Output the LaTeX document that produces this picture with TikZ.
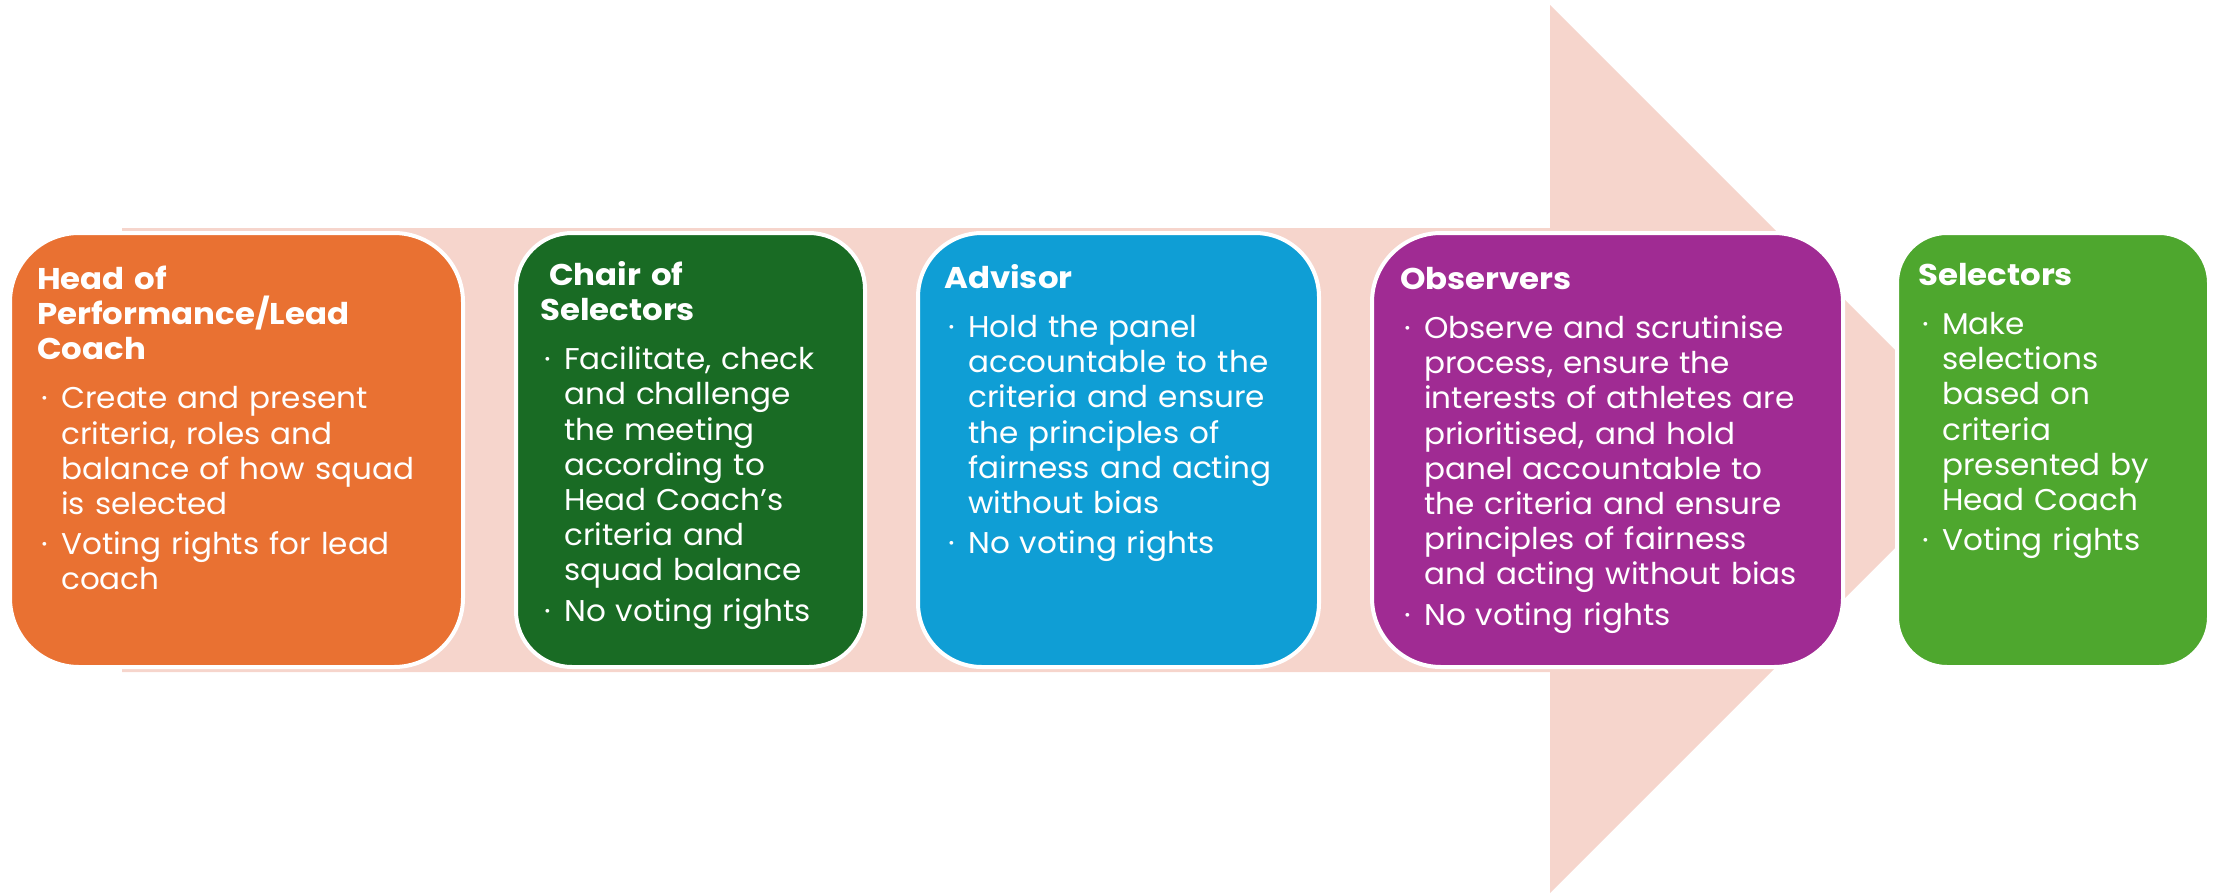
\documentclass[tikz,border=0pt]{standalone}
\usepackage{fontspec}
\setmainfont{Poppins}[UprightFeatures={FakeStretch=1.035},BoldFeatures={FakeStretch=1.08}]
\definecolor{arrowpink}{HTML}{F6D5CC}
\definecolor{cOrange}{HTML}{E97132}
\definecolor{cDkGreen}{HTML}{196B24}
\definecolor{cBlue}{HTML}{0F9ED5}
\definecolor{cPurple}{HTML}{A02B93}
\definecolor{cGreen}{HTML}{4EA72E}
\newcommand\bitem[1]{\par{\leftskip=24pt\noindent\llap{\makebox[20pt][l]{·}}#1\par}}
\newcommand\btitle[1]{\noindent\rule{0pt}{24pt}\textbf{#1}\par\vspace{14pt}}
\newcommand\bgap{\vspace{5pt}}
\begin{document}
\begin{tikzpicture}[x=1pt,y=-1pt,
  rolebox/.style={draw=white,line width=4pt,rounded corners=#1,inner sep=0pt,minimum height=434pt},
  roletext/.style={anchor=north west,inner sep=0pt,text=white,text width=460pt,align=left,
    font=\fontsize{30}{35.2}\selectfont}]
\useasboundingbox (0,0) rectangle (2216,894);
% background arrow
\fill[arrowpink] (122,228) -- (1550,228) -- (1550,5) -- (1994,449) -- (1550,893) -- (1550,672) -- (122,672) -- cycle;
% boxes
\node[rolebox=69pt,fill=cOrange,minimum width=453pt] (b1) at (236.5,450) {};
\node[rolebox=56pt,fill=cDkGreen,minimum width=349pt] (b2) at (690.5,450) {};
\node[rolebox=64pt,fill=cBlue,minimum width=401pt] (b3) at (1118.5,450) {};
\node[rolebox=69pt,fill=cPurple,minimum width=471pt] (b4) at (1607.5,450) {};
\node[rolebox=50pt,fill=cGreen,minimum width=312pt] (b5) at (2053,450) {};
% texts
\node[roletext] (t1) at ([shift={(29,34)}]b1.north west) {%
\btitle{Head of\\Performance/Lead\\Coach}%
\bitem{Create and present\\criteria, roles and\\balance of how squad\\is selected}\bgap
\bitem{Voting rights for lead\\coach}};
\node[roletext] (t2) at ([shift={(26,30)}]b2.north west) {%
\btitle{\hspace{9pt}Chair of\\Selectors}%
\bitem{Facilitate, check\\and challenge\\the meeting\\according to\\Head Coach’s\\criteria and\\squad balance}\bgap
\bitem{No voting rights}};
\node[roletext] (t3) at ([shift={(28,33)}]b3.north west) {%
\btitle{Advisor}%
\bitem{Hold the panel\\accountable to the\\criteria and ensure\\the principles of\\fairness and acting\\without bias}\bgap
\bitem{No voting rights}};
\node[roletext] (t4) at ([shift={(30,34)}]b4.north west) {%
\btitle{Observers}%
\bitem{Observe and scrutinise\\process, ensure the\\interests of athletes are\\prioritised, and hold\\panel accountable to\\the criteria and ensure\\principles of fairness\\and acting without bias}\bgap
\bitem{No voting rights}};
\node[roletext] (t5) at ([shift={(23,30)}]b5.north west) {%
\btitle{Selectors}%
\bitem{Make\\selections\\based on\\criteria\\presented by\\Head Coach}\bgap
\bitem{Voting rights}};
\end{tikzpicture}
\end{document}
